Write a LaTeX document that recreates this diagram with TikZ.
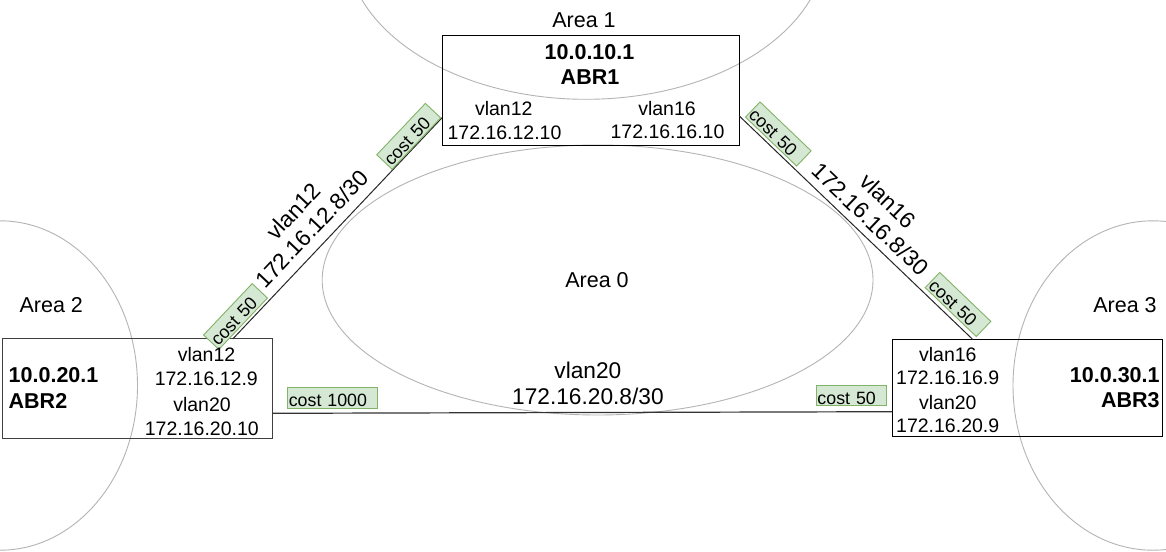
\documentclass[tikz,border=0pt]{standalone}
\usepackage{fontspec}
\setmainfont{Liberation Sans}
\usetikzlibrary{calc}
\definecolor{areagray}{RGB}{180,180,180}
\definecolor{costfill}{HTML}{D5E8D4}
\definecolor{costdraw}{HTML}{82B366}
\begin{document}
\begin{tikzpicture}[x=1pt,y=-1pt,
  area/.style={draw=areagray,line width=0.9pt},
  router/.style={draw=black,line width=1pt,inner sep=0pt,outer sep=0pt},
  link/.style={draw=black!85,line width=1pt},
  lbl/.style={inner sep=0pt,font=\fontsize{19.5}{22}\selectfont},
  rid/.style={inner sep=0pt,font=\fontsize{21.5}{24}\selectfont\bfseries},
  arealbl/.style={inner sep=0pt,font=\fontsize{21.5}{24}\selectfont},
  netlbl/.style={inner sep=0pt,align=center,font=\fontsize{22.7}{25.5}\selectfont},
  costbox/.style={draw=costdraw,fill=costfill,line width=0.9pt,inner xsep=1.5pt,inner ysep=0pt,
    minimum height=21pt,text width=67.7pt,align=left,text height=17pt,text depth=0pt,
    font=\fontsize{17.8}{20}\selectfont},
]
\useasboundingbox (0,0) rectangle (1166,551);
\clip (0,0) rectangle (1166,551);
\fill[white] (0,0) rectangle (1166,551);

% areas
\draw[area] (586,-55.7) ellipse [x radius=240pt, y radius=155pt];
\draw[area] (597.6,280) ellipse [x radius=275.4pt, y radius=135pt];
\draw[area] (0,385.5) ellipse [x radius=137.5pt, y radius=164.7pt];
\draw[area] (1153,385.5) ellipse [x radius=140pt, y radius=164.7pt];

% routers
\node[router, minimum width=297pt, minimum height=110.4pt] (abr1) at (590.8,90.5) {};
\node[router, minimum width=270.4pt, minimum height=100pt, draw=black!75, line width=1.3pt] (abr2) at (137.5,388.7) {};
\node[router, minimum width=270.4pt, minimum height=96.6pt] (abr3) at (1027.5,388) {};

% link ends
\coordinate (l12a) at ($(abr1.north west)+(0,82.2)$);
\coordinate (l12b) at ($(abr2.north west)+(230.7,0)$);
\coordinate (l16a) at ($(abr1.north east)+(0,80.7)$);
\coordinate (l16b) at ($(abr3.north west)+(80.7,0)$);
\coordinate (l20a) at ($(abr2.south east)+(0,-25.4)$);
\coordinate (l20b) at ($(abr3.south west)+(0,-24.6)$);

\draw[link] (l12b) -- (l12a);
\draw[link] (l16a) -- (l16b);
\draw[link, draw=black!80, line width=1.2pt] (l20a) -- (l20b);

% costs
\node[costbox, rotate=46.6] (c12a) at (408.7,136.3) {cost 50};
\node[costbox, rotate=46.6] (c12b) at (235.5,316.5) {cost 50};
\node[costbox, rotate=-43.75] (c16a) at (778.3,134) {cost 50};
\node[costbox, rotate=-43.75] (c16b) at (958,304.5) {cost 50};
\node[costbox, text width=87.4pt] (c20a) at (332.5,398.2) {cost 1000};
\node[costbox, minimum height=20pt] (c20b) at (851.3,395.7) {cost 50};

% area labels
\node[arealbl] (a1) at (584,20.6) {Area 1};
\node[arealbl] (a0) at (597,279.6) {Area 0};
\node[arealbl] (a2) at (51.3,305) {Area 2};
\node[arealbl] (a3) at (1125,305) {Area 3};

% ABR1
\node[rid] (r1id) at (589.5,51.6) {10.0.10.1};
\node[rid] (r1n) at (590,77.3) {ABR1};
\node[lbl] (r1v12) at (503.8,109) {vlan12};
\node[lbl] (r1i12) at (504.5,132.3) {172.16.12.10};
\node[lbl] (r1v16) at (667,109) {vlan16};
\node[lbl] (r1i16) at (667.5,131.7) {172.16.16.10};

% ABR2
\node[rid,anchor=west] (r2id) at (8.5,375) {10.0.20.1};
\node[rid,anchor=west] (r2n) at (8.5,400.6) {ABR2};
\node[lbl] (r2v12) at (206.5,354.7) {vlan12};
\node[lbl] (r2i12) at (206.3,378.3) {172.16.12.9};
\node[lbl] (r2v20) at (202,404.7) {vlan20};
\node[lbl] (r2i20) at (201.8,428.3) {172.16.20.10};

% ABR3
\node[rid,anchor=east] (r3id) at (1159.8,375.6) {10.0.30.1};
\node[rid,anchor=east] (r3n) at (1159.8,400.6) {ABR3};
\node[lbl] (r3v16) at (947.8,354.7) {vlan16};
\node[lbl] (r3i16) at (947.7,378) {172.16.16.9};
\node[lbl] (r3v20) at (947.8,402.3) {vlan20};
\node[lbl] (r3i20) at (947.7,425.3) {172.16.20.9};

% network labels
\node[netlbl, rotate=46.6] (n12) at (302.5,220) {vlan12\\172.16.12.8/30};
\node[netlbl, rotate=-43.75] (n16) at (879.2,210) {vlan16\\172.16.16.8/30};
\node[netlbl, font=\fontsize{22.7}{26.7}\selectfont] (n20) at (587.9,383.5) {vlan20\\172.16.20.8/30};
\end{tikzpicture}
\end{document}
